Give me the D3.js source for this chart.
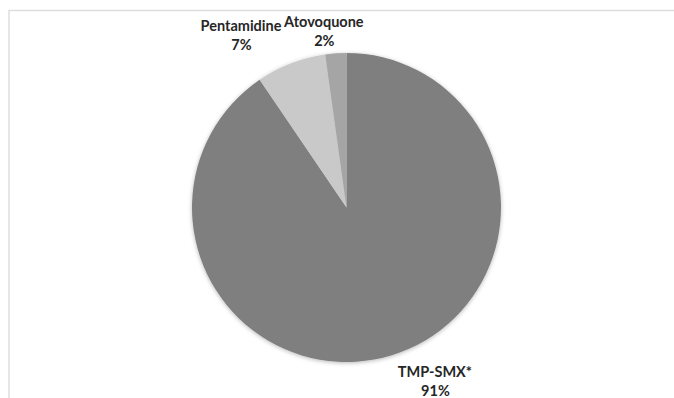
<!DOCTYPE html>
<html>
<head>
<meta charset="utf-8">
<script src="https://cdn.jsdelivr.net/npm/d3@7"></script>
<style>
  html, body { margin: 0; padding: 0; background: #ffffff; }
  svg { display: block; }
  text { font-family: Lato, "Open Sans", sans-serif; font-weight: bold; fill: #262626; }
</style>
</head>
<body>
<svg id="chart" width="674" height="398"></svg>
<script>
// ---- data ----
const categories = ["TMP-SMX*", "Pentamidine", "Atovoquone"];
const values = [90.5, 7.3, 2.2];
const percentLabels = ["91%", "7%", "2%"];
const colors = ["#7f7f7f", "#c8c9c8", "#a5a5a5"];
// label nudges relative to the slice's outer mid point (layout only)
const labelNudges = [[43, 21.5], [-50, -32], [-12, -26.5]];

const W = 674, H = 398;
const cx = 346.5, cy = 207.5, R = 154.5;

const svg = d3.select("#chart");

// chart-area border
svg.append("rect")
  .attr("x", 9).attr("y", 10.5)
  .attr("width", W + 20).attr("height", H + 20)
  .attr("fill", "#ffffff")
  .attr("stroke", "#dedede")
  .attr("stroke-width", 1.5);

const defs = svg.append("defs");
const f = defs.append("filter").attr("id", "shadow")
  .attr("x", "-20%").attr("y", "-20%").attr("width", "140%").attr("height", "140%");
f.append("feDropShadow")
  .attr("dx", 0).attr("dy", 1).attr("stdDeviation", 2.2)
  .attr("flood-color", "#000").attr("flood-opacity", 0.28);

const pie = d3.pie().sort(null).value(d => d)(values);
const arc = d3.arc().innerRadius(0).outerRadius(R);

const g = svg.append("g").attr("transform", `translate(${cx},${cy})`);

g.append("g").attr("filter", "url(#shadow)")
  .selectAll("path")
  .data(pie)
  .enter().append("path")
  .attr("d", arc)
  .attr("fill", (d, i) => colors[i]);

// labels
const lbl = g.append("g");
pie.forEach((d, i) => {
  const a = (d.startAngle + d.endAngle) / 2;
  const ox = Math.sin(a) * R + labelNudges[i][0];
  const oy = -Math.cos(a) * R + labelNudges[i][1];
  const t = lbl.append("text")
    .attr("text-anchor", "middle")
    .attr("font-size", 14.5)
    .attr("x", ox).attr("y", oy);
  t.append("tspan").attr("x", ox).attr("dy", 0).text(categories[i]);
  t.append("tspan").attr("x", ox + 0.5).attr("dy", 19).text(percentLabels[i]);
});
</script>
</body>
</html>
